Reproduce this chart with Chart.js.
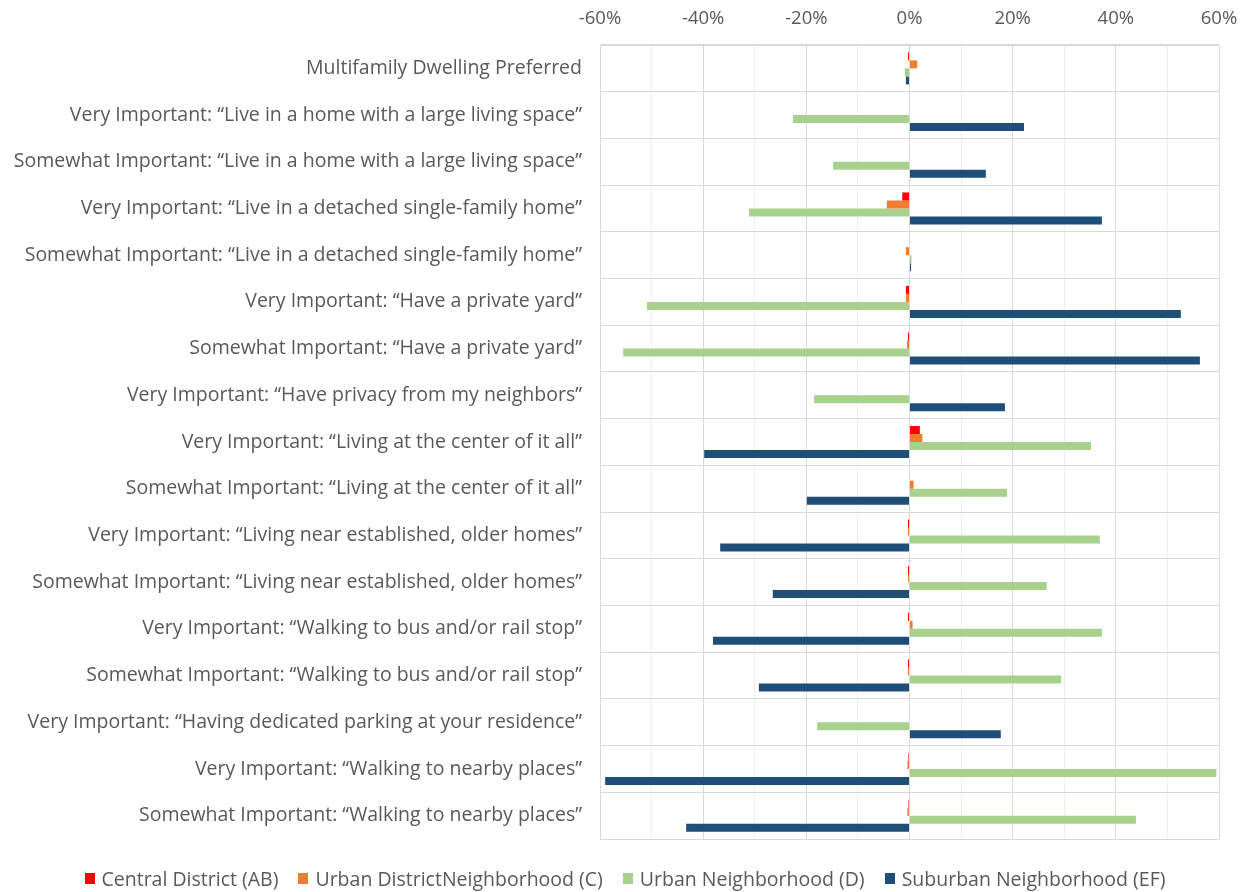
<!DOCTYPE html>
<html>
<head>
<meta charset="utf-8">
<script src="https://cdn.jsdelivr.net/npm/chart.js@4/dist/chart.umd.min.js"></script>
<style>
  html, body { margin: 0; padding: 0; background: #ffffff; }
  #wrap { position: relative; width: 1250px; height: 892px; }
  #chart { position: absolute; left: 0; top: 0; }
  #legend {
    position: absolute; left: 0; top: 866px; width: 1250px; height: 24px;
    display: flex; justify-content: center; align-items: center;
    font-family: "Open Sans", "Noto Sans", sans-serif; font-size: 19.5px; color: #595959;
  }
  #legend .item { display: flex; align-items: center; margin: 0 10px; white-space: nowrap; }
  #legend .box { width: 10px; height: 11px; margin-right: 7px; }
</style>
</head>
<body>
<div id="wrap">
  <canvas id="chart" width="1250" height="892"></canvas>
  <div id="legend"></div>
</div>
<script>
// Survey items (one row each)
const categories = [
  'Multifamily Dwelling Preferred',
  'Very Important: \u201cLive in a home with a large living space\u201d',
  'Somewhat Important: \u201cLive in a home with a large living space\u201d',
  'Very Important: \u201cLive in a detached single-family home\u201d',
  'Somewhat Important: \u201cLive in a detached single-family home\u201d',
  'Very Important: \u201cHave a private yard\u201d',
  'Somewhat Important: \u201cHave a private yard\u201d',
  'Very Important: \u201cHave privacy from my neighbors\u201d',
  'Very Important: \u201cLiving at the center of it all\u201d',
  'Somewhat Important: \u201cLiving at the center of it all\u201d',
  'Very Important: \u201cLiving near established, older homes\u201d',
  'Somewhat Important: \u201cLiving near established, older homes\u201d',
  'Very Important: \u201cWalking to bus and/or rail stop\u201d',
  'Somewhat Important: \u201cWalking to bus and/or rail stop\u201d',
  'Very Important: \u201cHaving dedicated parking at your residence\u201d',
  'Very Important: \u201cWalking to nearby places\u201d',
  'Somewhat Important: \u201cWalking to nearby places\u201d'
];

// Percentage-point differences by neighborhood type
const centralDistrict    = [-0.3, 0, 0, -1.4, 0, -0.7, -0.3, 0, 2.0, 0, -0.3, -0.3, -0.3, -0.3, 0, -0.2, -0.2];
const urbanDistrict      = [1.5, 0, 0, -4.4, -0.7, -0.7, -0.5, 0, 2.5, 0.8, -0.3, -0.3, 0.6, -0.3, 0, -0.4, -0.4];
const urbanNeighborhood  = [-0.9, -22.6, -14.8, -31.1, 0.4, -50.9, -55.5, -18.5, 35.2, 18.9, 36.9, 26.6, 37.3, 29.4, -17.9, 59.5, 43.9];
const suburbanNeighborhood = [-0.7, 22.2, 14.8, 37.3, 0.3, 52.6, 56.3, 18.5, -39.8, -19.9, -36.7, -26.5, -38.1, -29.2, 17.7, -59.0, -43.3];

const seriesNames = ['Central District (AB)', 'Urban DistrictNeighborhood (C)', 'Urban Neighborhood (D)', 'Suburban Neighborhood (EF)'];
const seriesColors = ['#ff0000', '#ed7d31', '#a9d18e', '#1f4e79'];

// Axis ticks: grid every 10%, labels every 20%
const xTickValues = [-60, -50, -40, -30, -20, -10, 0, 10, 20, 30, 40, 50, 60];
const xLabelStep = 20;

const textColor = '#595959';
const fontFamily = '"Open Sans", "Noto Sans", sans-serif';

const seriesData = [centralDistrict, urbanDistrict, urbanNeighborhood, suburbanNeighborhood];

const chart = new Chart(document.getElementById('chart'), {
  type: 'bar',
  data: {
    labels: categories,
    datasets: seriesData.map((d, i) => ({
      label: seriesNames[i],
      data: d,
      backgroundColor: seriesColors[i],
      borderWidth: 0,
      categoryPercentage: 0.685,
      barPercentage: 1.0
    }))
  },
  options: {
    indexAxis: 'y',
    responsive: false,
    animation: false,
    devicePixelRatio: 1,
    layout: { padding: { left: 10, right: 31, top: 0, bottom: 53 } },
    plugins: {
      legend: { display: false },
      tooltip: { enabled: false }
    },
    scales: {
      x: {
        position: 'top',
        min: -60,
        max: 60,
        afterBuildTicks: (scale) => { scale.ticks = xTickValues.map(v => ({ value: v })); },
        afterFit: (scale) => {
          scale.height = 45;
          scale.paddingLeft = 0;
          scale.paddingRight = 0;
        },
        ticks: {
          autoSkip: false,
          maxRotation: 0,
          padding: 15,
          color: textColor,
          font: { family: fontFamily, size: 18.5 },
          callback: (v) => (v % xLabelStep === 0 ? v + '%' : '')
        },
        grid: {
          drawTicks: false,
          color: (ctx) => (ctx.tick && ctx.tick.value % xLabelStep === 0 ? '#d9d9d9' : '#efefef'),
          lineWidth: 1
        },
        border: { display: true, color: '#d9d9d9' }
      },
      y: {
        afterFit: (scale) => { scale.width = 590; },
        ticks: {
          autoSkip: false,
          padding: 18,
          color: textColor,
          font: { family: fontFamily, size: 19.5 }
        },
        grid: {
          offset: true,
          drawTicks: false,
          color: '#d9d9d9',
          lineWidth: 1
        },
        border: { display: true, color: '#d9d9d9' }
      }
    }
  }
});

// Legend built from the chart's own datasets
const legendEl = document.getElementById('legend');
chart.data.datasets.forEach(ds => {
  const item = document.createElement('div');
  item.className = 'item';
  const box = document.createElement('span');
  box.className = 'box';
  box.style.background = ds.backgroundColor;
  const txt = document.createElement('span');
  txt.textContent = ds.label;
  item.appendChild(box);
  item.appendChild(txt);
  legendEl.appendChild(item);
});
</script>
</body>
</html>
